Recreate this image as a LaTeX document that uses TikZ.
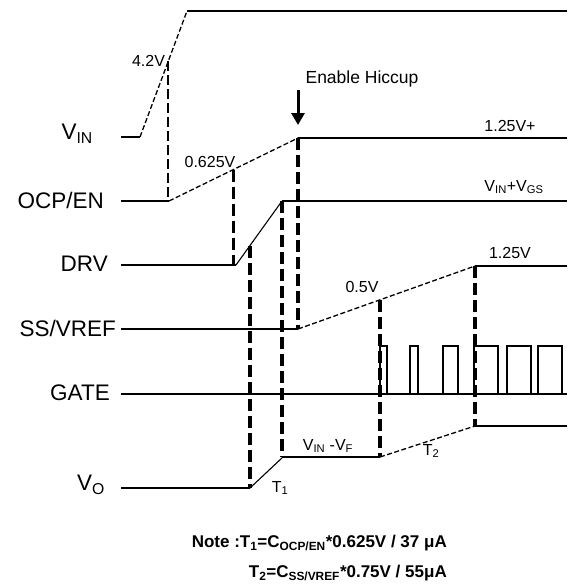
\documentclass[tikz,border=0pt]{standalone}
\usepackage{fontspec}
\setmainfont{Liberation Sans}
\usetikzlibrary{arrows.meta,calc,positioning}

\begin{document}
\begin{tikzpicture}[x=1pt, y=-1pt,
  sig/.style={line width=1.6pt},
  ramp/.style={line width=1.3pt, dash pattern=on 5pt off 2.5pt},
  slope/.style={line width=1.1pt},
  guide/.style={line width=3.4pt, dash pattern=on 12pt off 5pt},
  thinguide/.style={line width=2pt, dash pattern=on 10pt off 4pt},
  pin/.style={font=\fontsize{22.5}{24}\selectfont, anchor=east, inner sep=0pt},
  val/.style={font=\fontsize{16}{18}\selectfont, inner sep=0pt},
  note/.style={font=\bfseries\fontsize{17}{19}\selectfont, anchor=east, inner sep=0pt}
]
\useasboundingbox (0,0) rectangle (569,586);

% key points
\coordinate (vinL)  at (121,137);
\coordinate (vinA)  at (140,137);
\coordinate (vinB)  at (187,11);
\coordinate (ocpA)  at (169,201);
\coordinate (ocpB)  at (298,138);
\coordinate (drvA)  at (236,265);
\coordinate (drvB)  at (282,201);
\coordinate (ssA)   at (298,329);
\coordinate (ssB)   at (475,266);
\coordinate (voA)   at (250,488);
\coordinate (voB)   at (283,457);
\coordinate (voC)   at (380,457);
\coordinate (voD)   at (475,426);
\coordinate (uvlo)  at ($(vinA)!0.6!(vinB)$);
\coordinate (ocpth) at ($(ocpA)!0.5!(ocpB)$);
\coordinate (drvth) at ($(drvA)!0.3!(drvB)$);
\coordinate (ssth)  at ($(ssA)!0.463!(ssB)$);

% pin names
\node[pin] (vin)  at (93,134)  {V\textsubscript{IN}};
\node[pin] (ocp)  at (104,200) {OCP/EN};
\node[pin] (drv)  at (108,264) {DRV};
\node[pin] (ss)   at (116,328) {SS/VREF};
\node[pin] (gate) at (110,393) {GATE};
\node[pin] (vo)   at (105,485) {V\textsubscript{O}};

% VIN
\draw[sig] (vinL) -- (vinA);
\draw[ramp] (vinA) -- (vinB);
\draw[sig] (vinB) -- (567,11);

% OCP/EN
\draw[sig] (121,201) -- (ocpA);
\draw[ramp] (ocpA) -- (ocpB);
\draw[sig] (ocpB) -- (567,138);

% DRV
\draw[sig] (121,265) -- (drvA);
\draw[slope] (drvA) -- (drvB);
\draw[sig] (drvB) -- (567,201);

% SS/VREF
\draw[sig] (121,329) -- (ssA);
\draw[ramp] (ssA) -- (ssB);
\draw[sig] (ssB) -- (567,266);

% GATE
\draw[sig] (121,394) -- (567,394);
\foreach \a/\b in {380/387,410/418,443/458,474/498,507/531,538/562}
  \draw[line width=1.3pt] (\a,394) -- (\a,346) -- (\b,346) -- (\b,394);

% VO
\draw[sig] (121,488) -- (voA);
\draw[slope] (voA) -- (voB);
\draw[sig] (voB) -- (voC);
\draw[ramp] (voC) -- (voD);
\draw[sig] (voD) -- (567,426);

% timing guides
\draw[thinguide] (uvlo) -- (uvlo |- ocpA);
\draw[guide] (ocpth) -- (ocpth |- drvA);
\draw[guide] (drvth) -- (drvth |- voA);
\draw[guide] (drvB) -- (drvB |- voB);
\draw[guide] (ocpB) -- (ocpB |- ssA);
\draw[guide] (ssth) -- (ssth |- voC);
\draw[guide] (ssB) -- (ssB |- voD);

% levels
\node[val, anchor=east] (v42)  at ($(uvlo)+(-3,0)$) {4.2V};
\node[val] (v0625) at (210,162) {0.625V};
\node[val] (v125a) at (510,126) {1.25V+};
\node[val] (vdrv)  at (514,187) {V\textsubscript{IN}+V\textsubscript{GS}};
\node[val] (v125b) at (510,253) {1.25V};
\node[val] (v05)   at (362,287) {0.5V};
\node[val] (vof)   at (328,446) {V\textsubscript{IN} -V\textsubscript{F}};
\node[val] (t1)    at (280,488) {T\textsubscript{1}};
\node[val] (t2)    at (431,451) {T\textsubscript{2}};

% hiccup marker
\node[val, font=\fontsize{17.5}{19}\selectfont] (hic) at (362,79) {Enable Hiccup};
\coordinate (hicA) at (298,90);
\draw[line width=3pt, -{Triangle[width=13pt,length=12pt]}] (hicA) -- (hicA |- 0,125);

% timing note
\node[note] (n1) at (447,543) {Note :T\textsubscript{1}=C\textsubscript{OCP/EN}*0.625V / 37 μA};
\node[note] (n2) at (447,573) {T\textsubscript{2}=C\textsubscript{SS/VREF}*0.75V / 55μA};
\end{tikzpicture}
\end{document}
